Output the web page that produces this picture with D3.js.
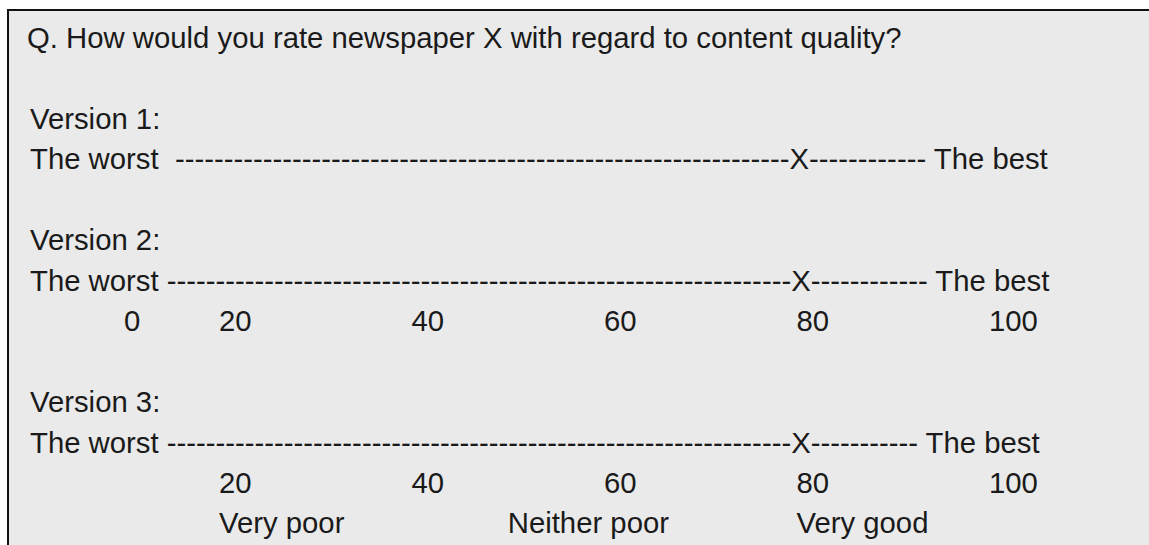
<!DOCTYPE html>
<html>
<head>
<meta charset="utf-8">
<script src="https://cdn.jsdelivr.net/npm/d3@7"></script>
<style>
  body { margin: 0; background: #fff; }
  svg text { font-family: "Liberation Sans", Arial, sans-serif; font-size: 29.3px; fill: #1a1a1a; white-space: pre; }
</style>
</head>
<body>
<script>
'use strict';

const width = 1149;
const height = 545;

// question and version labels
const question = "Q. How would you rate newspaper X with regard to content quality?";
const versions = ["Version 1:", "Version 2:", "Version 3:"];
const leftLabel = "The worst";
const rightLabel = "The best";

// dashes before / after the mark, and spaces after "The worst"
const dashesBefore = [63, 64, 64];
const dashesAfter = [12, 12, 11];
const gapSpaces = [2, 1, 1];

// tick labels under versions 2 and 3 (none for version 1)
const ticksV2 = [0, 20, 40, 60, 80, 100];
const ticksV3 = [20, 40, 60, 80, 100];
const anchorValues = [20, 50, 80];
const anchorLabels = ["Very poor", "Neither poor", "Very good"];

const lineStep = 40.45;
const firstBaseline = 48;
const textX = 30;

// tab positions of the numbers
const xScale = d3.scaleLinear().domain([0, 20, 100]).range([124, 219, 989]);
// line index -> baseline
const yLine = d => firstBaseline + d * lineStep;

const svg = d3.select("body").append("svg")
    .attr("width", width)
    .attr("height", height);

svg.append("rect")
    .attr("x", 8).attr("y", 10)
    .attr("width", width).attr("height", height)
    .attr("fill", "#eaeaea")
    .attr("stroke", "#111")
    .attr("stroke-width", 2);

svg.append("text")
    .attr("x", textX - 3)
    .attr("y", yLine(0))
    .text(question);

// line index where each version block starts
const blockStart = [2, 5, 9];
const blockTicks = [[], ticksV2, ticksV3];

versions.forEach((v, i) => {
    let row = blockStart[i];
    svg.append("text")
        .attr("x", textX)
        .attr("y", yLine(row))
        .text(v);

    let scaleLine = leftLabel + " ".repeat(gapSpaces[i]) + "-".repeat(dashesBefore[i]) +
        "X" + "-".repeat(dashesAfter[i]) + " " + rightLabel;
    svg.append("text")
        .attr("x", textX)
        .attr("y", yLine(row + 1))
        .text(scaleLine);

    svg.append("g")
        .selectAll("text")
        .data(blockTicks[i])
        .join("text")
        .attr("x", d => xScale(d))
        .attr("y", yLine(row + 2))
        .text(d => d);
});

svg.append("g")
    .selectAll("text")
    .data(anchorValues)
    .join("text")
    .attr("x", d => xScale(d))
    .attr("y", yLine(blockStart[2] + 3))
    .text((d, i) => anchorLabels[i]);
</script>
</body>
</html>
